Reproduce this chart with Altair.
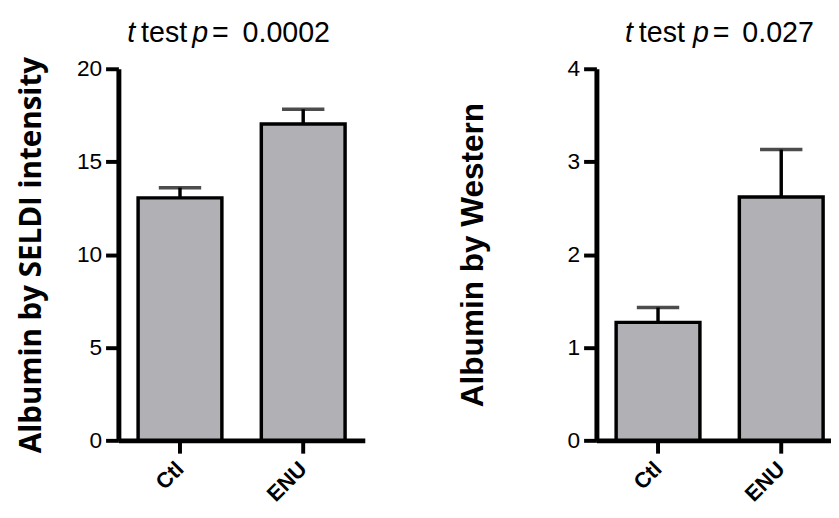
import altair as alt
import pandas as pd

groups = ["Ctl", "ENU"]
seldi_mean = [13.05, 17.03]
seldi_sem = [0.55, 0.79]
western_mean = [1.27, 2.62]
western_sem = [0.16, 0.51]

seldi_title = [("t", True), ("test", False), ("p", True), ("=", False), ("0.0002", False)]
western_title = [("t", True), ("test", False), ("p", True), ("=", False), ("0.027", False)]

# layout (pixels, relative to plot origin)
seldi_title_x = [9, 23, 75, 95, 126]
western_title_x = [29, 43, 98, 118, 148]
TITLE_Y = -27
BAR_FILL = "#b1b0b5"
PLOT_H = 377


def panel(means, sems, ymax, yvalues, ytitle, title_parts, title_xs, width,
          pad_inner, pad_outer, align, ytitle_font, ytitle_size, ytitle_pad):
    df = pd.DataFrame({"group": groups, "mean": means, "sem": sems})
    df["upper"] = df["mean"] + df["sem"]
    xscale = alt.Scale(domain=groups, paddingInner=pad_inner,
                       paddingOuter=pad_outer, align=align)
    x = alt.X("group:N", scale=xscale, sort=groups, title=None,
              axis=alt.Axis(domainWidth=5, domainColor="black",
                            tickSize=13, tickWidth=4, tickColor="black",
                            labelAngle=315, labelAlign="right",
                            labelBaseline="alphabetic", labelOffset=5,
                            labelFont="Liberation Sans", labelFontWeight="bold",
                            labelFontSize=22, labelColor="black", labelPadding=17))
    y = alt.Y("mean:Q", scale=alt.Scale(domain=[0, ymax], nice=False),
              title=ytitle,
              axis=alt.Axis(values=yvalues, format="d", grid=False, domainWidth=5,
                            domainColor="black", tickSize=13, tickWidth=4,
                            tickColor="black", labelFont="Liberation Sans",
                            labelFontSize=23, labelColor="black", labelPadding=4,
                            titleFont=ytitle_font, titleFontWeight="bold",
                            titleFontSize=ytitle_size, titleColor="black",
                            titlePadding=ytitle_pad))
    base = alt.Chart(df)
    stem = base.mark_rule(color="black", strokeWidth=3.5).encode(
        x=x, y=alt.Y("mean:Q"), y2="upper:Q")
    cap = base.mark_tick(color="black", thickness=3.5, size=43).encode(
        x=x, y=alt.Y("upper:Q"))
    bars = base.mark_bar(fill=BAR_FILL, stroke="black", strokeWidth=3.5,
                         size=85).encode(x=x, y=y)
    layers = [stem, cap, bars]
    for (txt, ital), tx in zip(title_parts, title_xs):
        t = alt.Chart(pd.DataFrame({"s": [txt]})).mark_text(
            font="Liberation Sans", fontSize=29, color="black", align="left",
            baseline="alphabetic", fontStyle="italic" if ital else "normal"
        ).encode(text="s:N", x=alt.value(tx), y=alt.value(TITLE_Y))
        layers.append(t)
    return alt.layer(*layers).properties(width=width, height=PLOT_H)


left = panel(seldi_mean, seldi_sem, 20, [0, 5, 10, 15, 20],
             "Albumin by SELDI intensity", seldi_title, seldi_title_x, 250,
             0, 0, 0.5, "Open Sans", 30, 30)
right = panel(western_mean, western_sem, 4, [0, 1, 2, 3, 4],
              "Albumin by Western", western_title, western_title_x, 238,
              0.192, 0.048, 1, "Liberation Sans", 32, 79)

chart = alt.hconcat(left, right, spacing=93).properties(
    padding={"left": 9, "top": 8, "right": 0, "bottom": 0}
).configure_view(stroke=None).resolve_scale(y="independent", x="independent")

chart.save("out.html", embed_options={"renderer": "svg", "actions": False})
